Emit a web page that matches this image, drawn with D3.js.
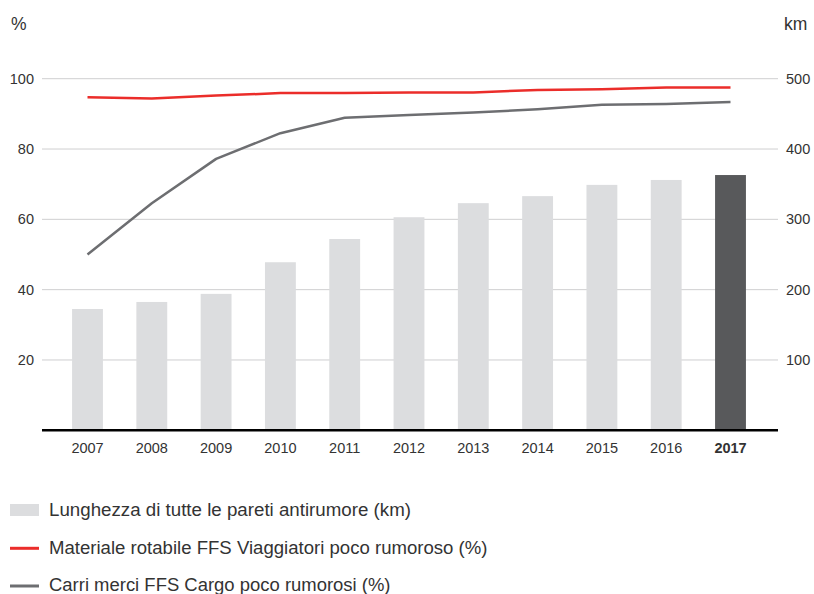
<!DOCTYPE html>
<html>
<head>
<meta charset="utf-8">
<script src="https://cdn.jsdelivr.net/npm/d3@7"></script>
<style>
  html, body { margin: 0; padding: 0; background: #fff; }
  svg text { font-family: "Liberation Sans", Arial, sans-serif; fill: #333; }
</style>
</head>
<body>
<svg id="chart" width="814" height="594"></svg>
<script>
const years = ["2007","2008","2009","2010","2011","2012","2013","2014","2015","2016","2017"];
const wallsKm = [172.5, 182.5, 194, 239, 272, 303, 323, 333, 349, 356, 363];
const passengerPct = [94.7, 94.4, 95.2, 95.9, 95.9, 96.1, 96.1, 96.8, 97.0, 97.5, 97.5];
const cargoPct = [50.0, 64.6, 77.2, 84.5, 88.9, 89.7, 90.4, 91.3, 92.6, 92.8, 93.4];
const leftTicks = [20, 40, 60, 80, 100];
const rightTicks = [100, 200, 300, 400, 500];
const legendLabels = [
  "Lunghezza di tutte le pareti antirumore (km)",
  "Materiale rotabile FFS Viaggiatori poco rumoroso (%)",
  "Carri merci FFS Cargo poco rumorosi (%)"
];

const svg = d3.select("#chart");
const plotLeft = 42, plotRight = 778, plotTop = 78.7, plotBottom = 430.3;

const x = d3.scaleBand().domain(years).range([55.35, 762.65]).paddingInner(0.52).paddingOuter(0.26);
const yPct = d3.scaleLinear().domain([0, 100]).range([plotBottom, plotTop]);
const yKm = d3.scaleLinear().domain([0, 500]).range([plotBottom, plotTop]);

// gridlines
svg.append("g").selectAll("line").data(leftTicks).join("line")
  .attr("x1", plotLeft).attr("x2", plotRight)
  .attr("y1", d => yPct(d)).attr("y2", d => yPct(d))
  .attr("stroke", "#cfcfd0").attr("stroke-width", 1);

// left axis labels
const leftAxis = d3.axisLeft(yPct).tickValues(leftTicks).tickSize(0).tickPadding(0);
const gl = svg.append("g").attr("transform", `translate(34,0)`).call(leftAxis);
gl.select(".domain").remove();
gl.selectAll("text").attr("font-size", 14.5).attr("fill", "#333").attr("font-family", "Liberation Sans, Arial, sans-serif");

// right axis labels
const rightAxis = d3.axisRight(yKm).tickValues(rightTicks).tickSize(0).tickPadding(0);
const gr = svg.append("g").attr("transform", `translate(786,0)`).call(rightAxis);
gr.select(".domain").remove();
gr.selectAll("text").attr("font-size", 14.5).attr("fill", "#333").attr("font-family", "Liberation Sans, Arial, sans-serif");

// unit labels
svg.append("text").attr("x", 11).attr("y", 30).attr("font-size", 17.5).text("%");
svg.append("text").attr("x", 784).attr("y", 30).attr("font-size", 17.5).text("km");

// bars
svg.append("g").selectAll("rect").data(years).join("rect")
  .attr("x", d => x(d)).attr("width", x.bandwidth())
  .attr("y", (d, i) => yKm(wallsKm[i]))
  .attr("height", (d, i) => plotBottom - yKm(wallsKm[i]))
  .attr("fill", (d, i) => i === years.length - 1 ? "#58595b" : "#dcdddf");

// baseline
svg.append("line").attr("x1", plotLeft).attr("x2", plotRight)
  .attr("y1", plotBottom).attr("y2", plotBottom)
  .attr("stroke", "#000").attr("stroke-width", 2.6);

// x axis labels
const xAxis = d3.axisBottom(x).tickSize(0).tickPadding(0);
const gx = svg.append("g").attr("transform", `translate(0,443)`).call(xAxis);
gx.select(".domain").remove();
gx.selectAll("text").attr("font-size", 14.5)
  .attr("font-family", "Liberation Sans, Arial, sans-serif")
  .attr("font-weight", d => d === "2017" ? "bold" : "normal")
  .attr("fill", d => d === "2017" ? "#111" : "#333");

// lines
const cx = d => x(d) + x.bandwidth() / 2;
const lineGen = vals => d3.line().x((d, i) => cx(years[i])).y(d => yPct(d))(vals);
svg.append("path").attr("d", lineGen(cargoPct)).attr("fill", "none")
  .attr("stroke", "#6d6e71").attr("stroke-width", 2.5).attr("stroke-linejoin", "round");
svg.append("path").attr("d", lineGen(passengerPct)).attr("fill", "none")
  .attr("stroke", "#eb2d2a").attr("stroke-width", 2.5).attr("stroke-linejoin", "round");

// legend
const lg = svg.append("g");
lg.append("rect").attr("x", 10).attr("y", 504).attr("width", 29).attr("height", 12).attr("fill", "#dcdddf");
lg.append("line").attr("x1", 10).attr("x2", 39).attr("y1", 548.3).attr("y2", 548.3).attr("stroke", "#eb2d2a").attr("stroke-width", 3);
lg.append("line").attr("x1", 10).attr("x2", 39).attr("y1", 586).attr("y2", 586).attr("stroke", "#6d6e71").attr("stroke-width", 3);
const legendY = [516, 553.5, 591];
const legendW = [362, 438.5, 341.5];
lg.selectAll("text").data(legendLabels).join("text")
  .attr("x", 49).attr("y", (d, i) => legendY[i])
  .attr("font-size", 17.5).attr("fill", "#333")
  .attr("textLength", (d, i) => legendW[i]).attr("lengthAdjust", "spacingAndGlyphs")
  .text(d => d);
</script>
</body>
</html>
